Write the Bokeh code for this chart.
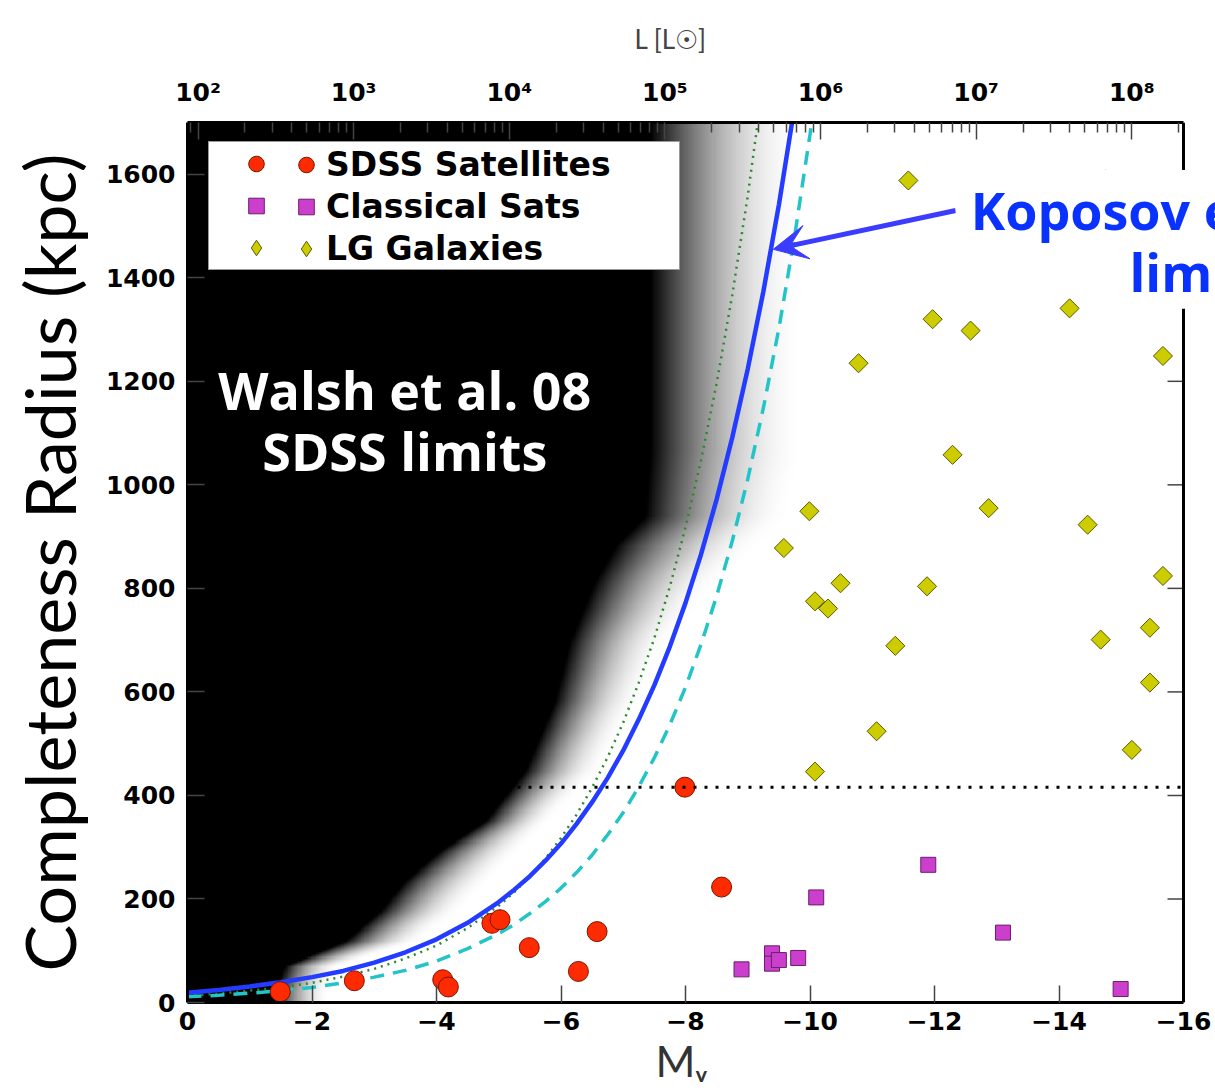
import numpy as np
from bokeh.plotting import figure
from bokeh.models import (Range1d, LinearAxis, FixedTicker, CustomJSTickFormatter,
                          Label, Arrow, VeeHead, Legend, LegendItem, Span, Title)
from bokeh.embed import file_html
from bokeh.resources import INLINE

# ---------------- data ----------------
# SDSS satellites (red circles)
sdss_mv = [-1.49, -2.68, -4.10, -4.19, -4.89, -5.02, -5.49, -6.28, -6.58, -7.99, -8.58]
sdss_r = [21, 42, 44, 30, 153, 160, 106, 60, 137, 416, 223]

# Classical satellites (magenta squares)
classical_mv = [-8.90, -9.39, -9.39, -9.50, -9.81, -10.10, -11.90, -13.10, -14.99]
classical_r = [64, 95, 75, 82, 86, 203, 266, 135, 26]

# Local Group galaxies (yellow diamonds)
lg_mv = [-9.58, -9.99, -10.08, -10.29, -10.49, -10.08, -11.07, -11.37, -11.88, -12.29,
         -12.87, -14.46, -14.67, -15.17, -15.46, -15.46, -15.67, -11.58, -10.78, -11.97,
         -12.58, -14.17, -15.67, -14.75]
lg_r = [878, 949, 775, 761, 810, 446, 524, 689, 804, 1058,
        955, 923, 701, 488, 618, 724, 824, 1588, 1235, 1320,
        1298, 1341, 1249, 1590]

# Koposov et al. limit (solid blue)
koposov_mv = [0, -0.5, -1, -1.5, -2, -2.5, -3, -3.5, -4, -4.5, -5, -5.25, -5.5, -5.75,
              -6, -6.25, -6.5, -6.75, -7, -7.25, -7.5, -7.75, -8, -8.25, -8.5, -8.75,
              -9, -9.25, -9.5, -9.75, -10]
koposov_r = [19, 24, 31, 39, 49, 61, 77, 97, 122, 154, 194, 218, 244, 274,
             307, 345, 387, 434, 487, 547, 613, 688, 772, 866, 972, 1091,
             1224, 1373, 1541, 1729, 1940]

# green dotted limit
green_mv = [0, -0.5, -1, -1.5, -2, -2.5, -3, -3.5, -4, -4.5, -5, -5.25, -5.5, -5.75,
            -6, -6.25, -6.5, -6.75, -7, -7.25, -7.5, -7.75, -8, -8.25, -8.5, -8.75,
            -9, -9.25]
green_r = [13, 17, 23, 29, 38, 50, 65, 85, 110, 144, 187, 213, 244, 278,
           318, 363, 415, 474, 541, 618, 704, 804, 918, 1048, 1196, 1366,
           1558, 1780]

# cyan dashed limit
cyan_mv = [0, -0.5, -1, -1.5, -2, -2.5, -3, -3.5, -4, -4.5, -5, -5.25, -5.5, -5.75,
           -6, -6.25, -6.5, -6.75, -7, -7.25, -7.5, -7.75, -8, -8.25, -8.5, -8.75,
           -9, -9.25, -9.5, -9.75, -10, -10.25]
cyan_r = [11, 14, 18, 23, 29, 38, 49, 62, 80, 104, 133, 151, 172, 195,
          221, 251, 285, 324, 367, 417, 473, 537, 609, 692, 785, 891,
          1011, 1148, 1302, 1478, 1677, 1904]

# horizontal dotted reference radius
ref_radius = 416

# Walsh et al. 08 limit map: edge of the black region and where it turns white
walsh_edge_r = [0, 21, 70, 118, 176, 234, 292, 350, 446, 582, 697, 813, 881, 939, 1065, 1354, 1700]
walsh_black_mv = [-1.41, -1.41, -1.57, -2.54, -3.10, -3.50, -4.06, -4.79, -5.43, -5.91,
                  -6.15, -6.55, -6.88, -7.36, -7.44, -7.44, -7.44]
walsh_white_mv = [-2.30, -2.30, -2.46, -3.74, -4.39, -4.87, -5.35, -5.83, -6.63, -7.28,
                  -7.76, -8.56, -9.20, -9.69, -9.93, -9.93, -9.93]

# axes
x_ticks = [0, -2, -4, -6, -8, -10, -12, -14, -16]
x_tick_labels = ["0", "\u22122", "\u22124", "\u22126", "\u22128", "\u221210", "\u221212", "\u221214", "\u221216"]
y_ticks = [0, 200, 400, 600, 800, 1000, 1200, 1400, 1600]
y_tick_labels = ["0", "200", "400", "600", "800", "1000", "1200", "1400", "1600"]
MSUN_V = 4.83
lum_exponents = [2, 3, 4, 5, 6, 7, 8]
lum_labels = ["10\u00b2", "10\u00b3", "10\u2074", "10\u2075", "10\u2076", "10\u2077", "10\u2078"]

x_lo, x_hi = 0, -16          # axis limits (M_V)
y_lo, y_hi = 0, 1700
x_view_hi = -16.514          # frame runs to the page edge so the annotation can overflow

# ---------------- figure ----------------
p = figure(width=1215, height=1091, x_range=Range1d(x_lo, x_view_hi), y_range=Range1d(y_lo, y_hi),
           x_axis_type=None, y_axis_type=None, output_backend="svg", toolbar_location=None,
           min_border_left=187, min_border_right=0, min_border_top=122, min_border_bottom=89)
p.background_fill_color = "white"
p.border_fill_color = "white"
p.outline_line_color = None

# background limit map (image), columns ordered by increasing M_V
span_mv = 12.0
ncol, nrow = 480, 425
grid_mv = -span_mv + (np.arange(ncol) + 0.5) * (span_mv / ncol)
grid_r = (np.arange(nrow) + 0.5) * (float(y_hi) / nrow)
mb = np.interp(grid_r, walsh_edge_r, walsh_black_mv)
mw = np.interp(grid_r, walsh_edge_r, walsh_white_mv)
t = (mb[:, None] - grid_mv[None, :]) / (mb - mw)[:, None]
t = np.clip(t, 0, 1)
bright = 1 - (1 - t) ** 2
gray = np.round(255 * bright).astype(np.uint8)
img = np.empty((nrow, ncol), dtype=np.uint32)
view = img.view(dtype=np.uint8).reshape((nrow, ncol, 4))
view[..., 0] = gray
view[..., 1] = gray
view[..., 2] = gray
view[..., 3] = 255
p.image_rgba(image=[img], x=-span_mv, y=0, dw=span_mv, dh=y_hi)

# limit curves
p.line(green_mv, green_r, line_color="#2a8a2a", line_width=2.5, line_dash="2 5")
p.line(koposov_mv, koposov_r, line_color="#233cff", line_width=4.5)
p.line(cyan_mv, cyan_r, line_color="#22c4c8", line_width=3.5, line_dash="14 9")

# points
r_sdss = p.scatter(sdss_mv, sdss_r, marker="circle", size=20, fill_color="#ff2b00",
                   line_color="#7a1500", line_width=1)
r_cls = p.scatter(classical_mv, classical_r, marker="square", size=15, fill_color="#cc3fcc",
                  line_color="#6a1f6a", line_width=1)
p.scatter(lg_mv, lg_r, marker="square", angle=np.pi / 4, size=13.5, fill_color="#cccc00",
          line_color="#5a5a00", line_width=1)
# legend stand-in for the diamonds (its single point lies outside the visible ranges)
r_lg_proxy = p.scatter([40], [-5000], marker="diamond", size=16, fill_color="#cccc00",
                       line_color="#5a5a00", line_width=1)

# horizontal dotted reference line across the axis span
p.line([x_lo, x_hi], [ref_radius, ref_radius], line_color="black", line_width=3, line_dash="3 8")

# right frame edge and its inward ticks
p.add_layout(Span(location=x_hi, dimension="height", line_color="black", line_width=3))
p.ray(x=[x_hi] * len(y_ticks), y=y_ticks, length=16, length_units="screen", angle=np.pi,
      line_color="#444444", line_width=1.5)

# ---------------- axes ----------------
def fmt(vals, labels):
    return CustomJSTickFormatter(args=dict(tick_vals=vals, tick_labels=labels), code="""
        let best = 0;
        for (let i = 0; i < tick_vals.length; i++) {
            if (Math.abs(tick_vals[i] - tick) < Math.abs(tick_vals[best] - tick)) best = i;
        }
        return tick_labels[best];
    """)

common = dict(axis_line_color="black", axis_line_width=3, major_tick_in=17, major_tick_out=0,
              minor_tick_in=0, minor_tick_out=0,
              major_tick_line_color="#444444", major_tick_line_width=1.5,
              major_label_text_font="DejaVu Sans", major_label_text_font_style="bold",
              major_label_text_font_size="25px", major_label_text_color="black")

xb = LinearAxis(ticker=FixedTicker(ticks=x_ticks), formatter=fmt(x_ticks, x_tick_labels),
                bounds=(x_hi, x_lo), major_label_standoff=9, **common)
p.add_layout(xb, "below")

yl = LinearAxis(ticker=FixedTicker(ticks=y_ticks), formatter=fmt(y_ticks, y_tick_labels),
                major_label_standoff=12, axis_label="Completeness Radius (kpc)",
                axis_label_text_font="Lato", axis_label_text_font_style="normal",
                axis_label_text_font_size="70px", axis_label_text_color="black",
                axis_label_standoff=12, **common)
p.add_layout(yl, "left")

top_major = [MSUN_V - 2.5 * k for k in lum_exponents]
top_minor = []
for k in range(1, 9):
    for m in range(2, 10):
        mv = MSUN_V - 2.5 * np.log10(m * 10.0 ** k)
        if x_hi <= mv <= x_lo:
            top_minor.append(float(mv))
top_common = dict(common)
top_common.update(minor_tick_in=10, minor_tick_line_color="#444444", minor_tick_line_width=1.5)
xt = LinearAxis(ticker=FixedTicker(ticks=top_major, minor_ticks=top_minor),
                formatter=fmt(top_major, lum_labels), bounds=(x_hi, x_lo),
                major_label_standoff=16, **top_common)
p.add_layout(xt, "above")

# axis titles placed with a pixel offset from the frame's left edge
p.add_layout(Title(text="L [L\u2609]", align="left", offset=447, standoff=40,
                   text_font="Lato", text_font_style="normal", text_font_size="26px",
                   text_color="#444444"), "above")
p.add_layout(Title(text="M\u1d65", align="left", offset=468, standoff=0,
                   text_font="Lato", text_font_style="normal", text_font_size="43px",
                   text_color="#333333"), "below")

# ---------------- annotations ----------------
p.add_layout(Label(x=-3.49, y=1125, text="Walsh et al. 08\nSDSS limits", text_align="center",
                   text_baseline="middle", text_color="white", text_font="Open Sans",
                   text_font_style="bold", text_font_size="52px", text_line_height=0.85))

arrow_color = "#3c3cff"
p.add_layout(Arrow(end=VeeHead(size=34, fill_color=arrow_color, line_color=arrow_color),
                   x_start=-12.34, y_start=1530, x_end=-9.41, y_end=1455,
                   line_color=arrow_color, line_width=5))

# white box behind the annotation text (lower part, then upper part with the first line)
p.add_layout(Label(x=-14.89, y=1409, text=" ", text_align="left", text_baseline="middle",
                   text_font="Open Sans", text_font_size="52px",
                   background_fill_color="white",
                   padding=dict(left=0, right=120, top=0, bottom=0)))
p.add_layout(Label(x=-12.34, y=1532, text="Koposov et al.", text_align="left",
                   text_baseline="middle", text_color="#0a32ff", text_font="Open Sans",
                   text_font_style="bold", text_font_size="52px",
                   background_fill_color="white",
                   padding=dict(left=15, right=15, top=4, bottom=4)))
p.add_layout(Label(x=-14.89, y=1409, text="limits", text_align="left",
                   text_baseline="middle", text_color="#0a32ff", text_font="Open Sans",
                   text_font_style="bold", text_font_size="52px",
                   padding=dict(left=15, right=15, top=0, bottom=3)))

# ---------------- legend (two markers per entry) ----------------
leg_font = dict(label_text_font="DejaVu Sans", label_text_font_style="bold",
                label_text_font_size="33px", label_text_color="black")
legend_box = Legend(items=[LegendItem(label=" ", renderers=[r_sdss]),
                           LegendItem(label=" ", renderers=[r_cls]),
                           LegendItem(label=" ", renderers=[r_lg_proxy])],
                    location=(21, 732), padding=2, spacing=3, margin=0,
                    glyph_width=90, glyph_height=39, label_height=39, label_width=376,
                    label_standoff=0, label_text_alpha=0,
                    background_fill_color="white", background_fill_alpha=1,
                    border_line_color="#333333", border_line_width=1.5, **leg_font)
legend_txt = Legend(items=[LegendItem(label="SDSS Satellites", renderers=[r_sdss]),
                           LegendItem(label="Classical Sats", renderers=[r_cls]),
                           LegendItem(label="LG Galaxies", renderers=[r_lg_proxy])],
                    location=(97, 732), padding=2, spacing=3, margin=0,
                    glyph_width=40, glyph_height=39, label_height=39,
                    label_standoff=0, background_fill_alpha=0, border_line_alpha=0, **leg_font)
p.add_layout(legend_box)
p.add_layout(legend_txt)

open("out.html", "w").write(file_html(p, INLINE))
